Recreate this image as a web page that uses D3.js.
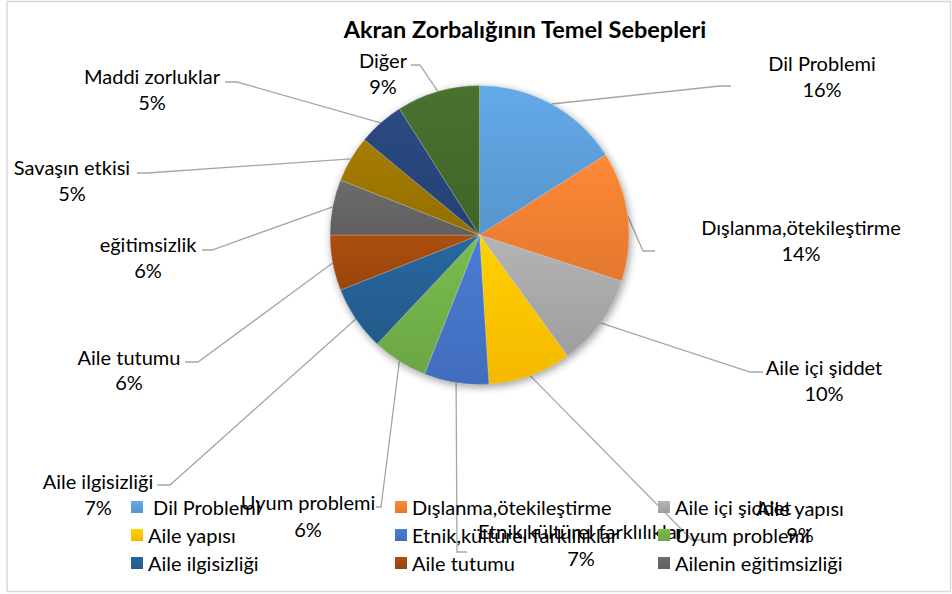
<!DOCTYPE html>
<html>
<head>
<meta charset="utf-8">
<script src="https://cdn.jsdelivr.net/npm/d3@7"></script>
<style>
  html, body { margin: 0; padding: 0; background: #fff; }
  svg text { font-family: Lato, "Open Sans", sans-serif; fill: #000; }
</style>
</head>
<body>
<svg id="chart" width="952" height="594"></svg>
<script>
// Chart data
const title = "Akran Zorbalığının Temel Sebepleri";
const categories = [
  "Dil Problemi", "Dışlanma,ötekileştirme", "Aile içi şiddet", "Aile yapısı",
  "Etnik,kültürel farklılıklar", "Uyum problemi", "Aile ilgisizliği", "Aile tutumu",
  "eğitimsizlik", "Savaşın etkisi", "Maddi zorluklar", "Diğer"
];
const percents = [16, 14, 10, 9, 7, 6, 7, 6, 6, 5, 5, 9];
const legendNames = [
  " Dil Problemi", "Dışlanma,ötekileştirme", "Aile içi şiddet",
  "Aile yapısı", "Etnik,kültürel farklılıklar", "Uyum problemi",
  "Aile ilgisizliği", "Aile tutumu", "Ailenin eğitimsizliği"
];
const colors = [
  "#5B9BD5", "#ED7D31", "#A5A5A5", "#FFC000", "#4472C4", "#70AD47",
  "#255E91", "#9E480E", "#636363", "#997300", "#264478", "#43682B"
];

// Layout: label centers [x, name line y, percent line y] and leader elbows [elbowX, elbowY, endX]
const labelLayout = [
  [822, 63, 89], [801, 227, 253], [824, 367, 393], [800, 508, 534],
  [581, 531, 558], [308, 502, 529], [98, 481, 507], [129, 357, 382],
  [148, 244, 270], [72, 167, 193], [152, 76, 102], [383, 60, 86]
];
const leaderLayout = [
  [720, 86, 731], [643, 251, 655], [750, 372, 763], [692, 540, 705],
  [457, 552, 467], [381, 507, 376], [170, 485, 157], [198, 362, 185],
  [212, 250, 202], [147, 173, 137], [237, 82, 225], [420, 65, 411]
];

const W = 952, H = 594;
const cx = 479.5, cy = 235, R = 149.5;
const FS = 20;

const svg = d3.select("#chart");
const defs = svg.append("defs");

// Chart frame
svg.append("rect")
  .attr("x", 7).attr("y", 1.5).attr("width", 943.5).attr("height", 590)
  .attr("fill", "#fff").attr("stroke", "#d9d9d9").attr("stroke-width", 1.5);

// Title
svg.append("text")
  .attr("x", 525).attr("y", 29)
  .attr("text-anchor", "middle").attr("dominant-baseline", "central")
  .style("font-weight", "bold").style("font-size", "23.5px")
  .text(title);

// Per-colour vertical gradients (lighter top, deeper bottom)
colors.forEach((c, i) => {
  const g = defs.append("linearGradient").attr("id", "grad" + i)
    .attr("x1", 0).attr("y1", 0).attr("x2", 0).attr("y2", 1);
  g.append("stop").attr("offset", "0%").attr("stop-color", d3.color(c).brighter(0.25));
  g.append("stop").attr("offset", "100%").attr("stop-color", d3.color(c).darker(0.12));
});

// Soft shadow under the pie
const shadow = defs.append("filter").attr("id", "pieShadow")
  .attr("x", "-20%").attr("y", "-20%").attr("width", "140%").attr("height", "140%");
shadow.append("feGaussianBlur").attr("in", "SourceAlpha").attr("stdDeviation", 4);

const pie = d3.pie().sort(null).value(d => d);
const arcs = pie(percents);
const arc = d3.arc().innerRadius(0).outerRadius(R);

// Leader lines
const lines = svg.append("g").attr("fill", "none")
  .attr("stroke", "#a6a6a6").attr("stroke-width", 1.3);
arcs.forEach((a, i) => {
  const mid = (a.startAngle + a.endAngle) / 2;
  const sx = cx + R * Math.sin(mid), sy = cy - R * Math.cos(mid);
  const [ex, ey, tx] = leaderLayout[i];
  lines.append("path").attr("d", d3.line()([[sx, sy], [ex, ey], [tx, ey]]));
});

// Pie
const pieG = svg.append("g").attr("transform", `translate(${cx},${cy})`);
pieG.append("circle").attr("r", R).attr("cx", 1.5).attr("cy", 2.5)
  .attr("fill", "#000").attr("opacity", 0.4).attr("filter", "url(#pieShadow)");
pieG.selectAll("path.slice").data(arcs).join("path")
  .attr("class", "slice")
  .attr("d", arc)
  .attr("fill", (d, i) => `url(#grad${i})`)
  .attr("stroke", "rgba(255,255,255,0.35)").attr("stroke-width", 0.6);

// Data labels: category name and percentage
const labels = svg.append("g").style("font-size", FS + "px").attr("text-anchor", "middle")
  .attr("dominant-baseline", "central");
arcs.forEach((a, i) => {
  const [lx, ly1, ly2] = labelLayout[i];
  labels.append("text").attr("x", lx).attr("y", ly1).text(categories[i]);
  labels.append("text").attr("x", lx).attr("y", ly2).text(d3.format(".0%")(a.data / 100));
});

// Legend
const legCols = [131, 395, 658], legRows = [507, 535, 563];
const legend = svg.append("g").style("font-size", FS + "px");
legendNames.forEach((name, i) => {
  const x = legCols[i % 3], y = legRows[Math.floor(i / 3)];
  legend.append("rect").attr("x", x).attr("y", y - 6).attr("width", 12).attr("height", 12)
    .attr("fill", `url(#grad${i})`);
  legend.append("text").attr("x", x + 17).attr("y", y)
    .attr("dominant-baseline", "central").style("white-space", "pre").text(name);
});
</script>
</body>
</html>
